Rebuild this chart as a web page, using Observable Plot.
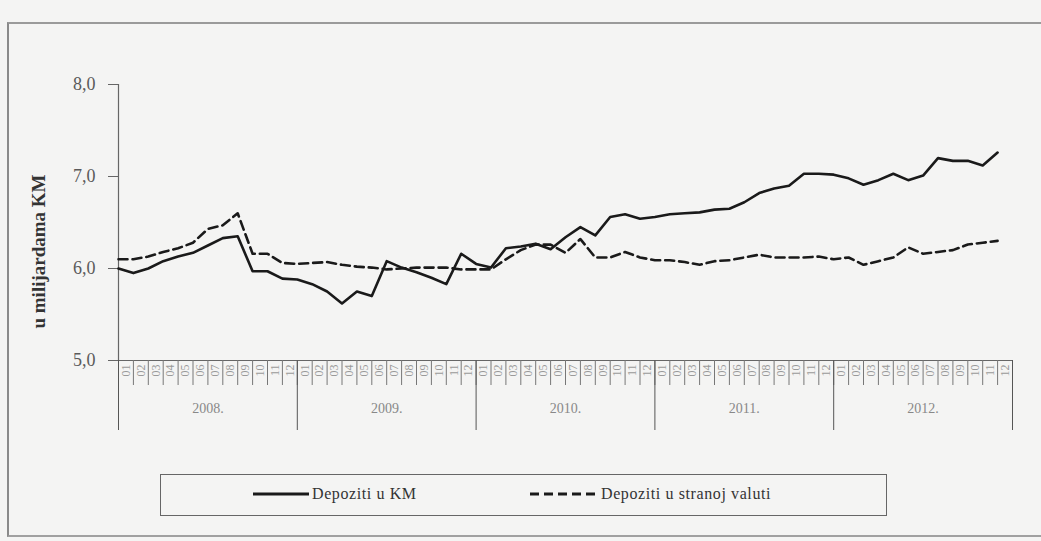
<!DOCTYPE html>
<html>
<head>
<meta charset="utf-8">
<script src="https://cdn.jsdelivr.net/npm/d3@7"></script>
<script src="https://cdn.jsdelivr.net/npm/@observablehq/plot@0.6"></script>
<style>
  html, body { margin: 0; padding: 0; background: #f4f4f3; }
  #wrap { position: relative; width: 1041px; height: 541px; overflow: hidden; font-family: "Liberation Serif", "DejaVu Serif", serif; }
  #frame { position: absolute; left: 7px; top: 22px; width: 1040px; height: 515px; border-left: 2px solid #8a8a8a; border-top: 2px solid #9a9a9a; border-bottom: 2px solid #a0a0a0; box-sizing: border-box; }
  #chart { position: absolute; left: 0; top: 0; }
  #legend { position: absolute; left: 160px; top: 474px; width: 727px; height: 42px; border: 1.5px solid #666; box-sizing: border-box; font-size: 16px; letter-spacing: 0.6px; color: #333; }
  .item { display: flex; align-items: center; position: absolute; top: 10px; }
  .item svg { margin-right: 3px; }
</style>
</head>
<body>
<div id="wrap">
  <div id="frame"></div>
  <div id="chart"></div>
  <div id="legend"></div>
</div>
<script>
const seriesNames = ["Depoziti u KM", "Depoziti u stranoj valuti"];
const monthLabels = ["01","02","03","04","05","06","07","08","09","10","11","12"];
const yearLabels = ["2008.","2009.","2010.","2011.","2012."];
const yTicks = [5, 6, 7, 8];
const yTitle = "u milijardama KM";

// monthly values, Jan 2008 .. Dec 2012 (billions KM)
const depKM = [
  6.00,5.95,6.00,6.08,6.13,6.17,6.25,6.33,6.35,5.97,
  5.97,5.89,5.88,5.83,5.75,5.62,5.75,5.70,6.08,6.01,
  5.96,5.90,5.83,6.16,6.05,6.01,6.22,6.24,6.27,6.21,
  6.34,6.45,6.36,6.56,6.59,6.54,6.56,6.59,6.60,6.61,
  6.64,6.65,6.72,6.82,6.87,6.90,7.03,7.03,7.02,6.98,
  6.91,6.96,7.03,6.96,7.01,7.20,7.17,7.17,7.12,7.26
];
const depFX = [
  6.10,6.10,6.13,6.18,6.22,6.28,6.43,6.47,6.60,6.16,
  6.16,6.06,6.05,6.06,6.07,6.04,6.02,6.01,5.99,6.00,
  6.01,6.01,6.01,5.99,5.99,5.99,6.10,6.20,6.26,6.26,
  6.17,6.32,6.12,6.12,6.18,6.12,6.09,6.09,6.07,6.04,
  6.08,6.09,6.12,6.15,6.12,6.12,6.12,6.13,6.10,6.12,
  6.04,6.08,6.12,6.23,6.16,6.18,6.20,6.26,6.28,6.30
];

const nMonths = depKM.length;
const km = depKM.map((v, i) => ({i, v}));
const fx = depFX.map((v, i) => ({i, v}));
const monthBounds = d3.range(0, nMonths + 1);
const monthCenters = d3.range(0, nMonths).map(i => i + 0.5);
const yearBounds = d3.range(0, nMonths + 1, 12);
const yearCenters = d3.range(0, yearLabels.length).map(k => k * 12 + 6);

const serif = "Liberation Serif, DejaVu Serif, serif";
const axisColor = "#666";

const chart = Plot.plot({
  width: 1041,
  height: 445,
  marginLeft: 118,
  marginRight: 29,
  marginTop: 84,
  marginBottom: 85,
  style: { background: "transparent", fontFamily: serif, overflow: "visible" },
  x: { type: "linear", domain: [0, nMonths], axis: null },
  y: { domain: [5, 8], axis: null },
  marks: [
    Plot.axisY(yTicks, {
      tickSize: 10, tickPadding: 13, fontSize: 18, color: "#5a5a5a", stroke: axisColor,
      tickFormat: d => d.toFixed(1).replace(".", ","), label: null,
      style: { letterSpacing: "2px" }
    }),
    Plot.ruleX([0], { stroke: axisColor, strokeWidth: 1.2 }),
    Plot.ruleY([5], { stroke: axisColor, strokeWidth: 1.2 }),
    Plot.axisX(monthBounds, { tickSize: 25, tickFormat: () => "", stroke: "#777", label: null }),
    Plot.axisX(yearBounds, { tickSize: 70, tickFormat: () => "", stroke: "#555", label: null }),
    Plot.axisX(monthCenters, {
      tickSize: 0, tickPadding: 4, tickRotate: -90, fontSize: 12, color: "#9a9a9a",
      tickFormat: d => monthLabels[Math.floor(d) % 12], label: null
    }),
    Plot.axisX(yearCenters, {
      tickSize: 0, tickPadding: 43, fontSize: 14, color: "#888",
      tickFormat: d => yearLabels[(d - 6) / 12], label: null
    }),
    Plot.text([yTitle], {
      text: d => d, frameAnchor: "left", textAnchor: "middle", rotate: -90, dx: -80, dy: 29,
      fontSize: 19, fontWeight: "bold", fill: "#333", fontFamily: serif
    }),
    Plot.line(fx, { x: "i", y: "v", stroke: "#1a1a1a", strokeWidth: 2.6, strokeDasharray: "9,5" }),
    Plot.line(km, { x: "i", y: "v", stroke: "#1a1a1a", strokeWidth: 2.6 })
  ]
});
document.getElementById("chart").appendChild(chart);

// legend
const legend = document.getElementById("legend");
function swatch(dashed) {
  const ns = "http://www.w3.org/2000/svg";
  const s = document.createElementNS(ns, "svg");
  s.setAttribute("width", dashed ? 68 : 56);
  s.setAttribute("height", 10);
  const l = document.createElementNS(ns, "line");
  l.setAttribute("x1", 0); l.setAttribute("x2", dashed ? 68 : 56);
  l.setAttribute("y1", 5); l.setAttribute("y2", 5);
  l.setAttribute("stroke", "#1a1a1a"); l.setAttribute("stroke-width", 3);
  if (dashed) l.setAttribute("stroke-dasharray", "9,5");
  s.appendChild(l);
  return s;
}
const lefts = [92, 369];
seriesNames.forEach((name, k) => {
  const it = document.createElement("div");
  it.className = "item";
  it.style.left = lefts[k] + "px";
  it.appendChild(swatch(k === 1));
  const t = document.createElement("span");
  t.textContent = name;
  it.appendChild(t);
  legend.appendChild(it);
});
</script>
</body>
</html>
